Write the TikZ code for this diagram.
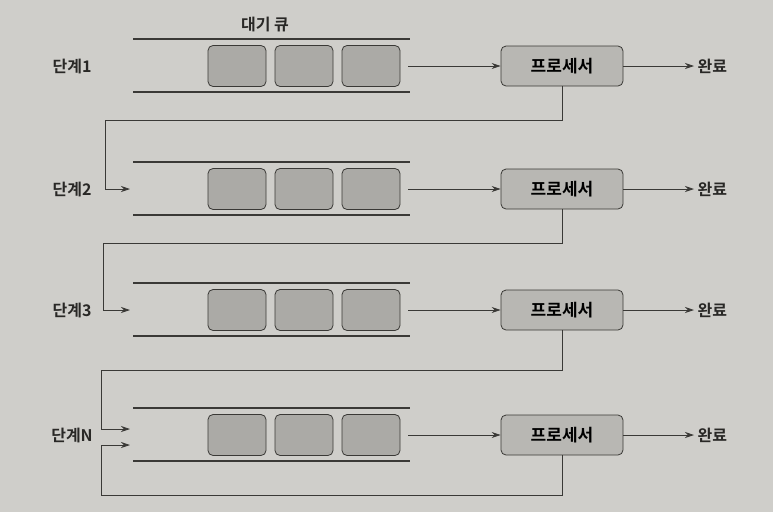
\documentclass[tikz,border=0pt]{standalone}
\usepackage{fontspec}
\setmainfont{Noto Sans CJK KR}[BoldFont={Noto Sans CJK KR Bold}]
\usetikzlibrary{arrows.meta}

\definecolor{paper}{HTML}{CFCECA}
\definecolor{ink}{HTML}{3A3936}
\definecolor{slot}{HTML}{ABAAA6}
\definecolor{procfill}{HTML}{B8B7B3}

\tikzset{
  rail/.style={ink, line width=1.8pt},
  queuebox/.style={draw=ink, fill=slot, thick, rounded corners=5pt,
    minimum width=58pt, minimum height=41pt},
  procbox/.style={draw=ink, fill=procfill, thick, rounded corners=5pt,
    minimum width=122pt, minimum height=40pt, font=\bfseries\fontsize{17}{19}\selectfont},
  stagelabel/.style={font=\bfseries\fontsize{16}{18}\selectfont, text=ink!70!black},
  flow/.style={ink, thick, -{Stealth[length=9pt,width=6pt]}},
  link/.style={ink, thick}
}

\begin{document}
\begin{tikzpicture}[x=1pt, y=-1pt]
  % Page background
  \fill[paper] (0,0) rectangle (773,512);
  \useasboundingbox (0,0) rectangle (773,512);

  \node[stagelabel] (queuetitle) at (265,25) {대기 큐};

  % Stages
  \foreach \i/\y/\lab in {1/66/1, 2/189/2, 3/310/3, 4/435/N} {
    \node[stagelabel] (stage\i) at (72,\y) {단계\lab};
    \draw[rail] (133,\y-27) -- (410,\y-27);
    \draw[rail] (133,\y+26) -- (410,\y+26);
    \node[queuebox] (qa\i) at (237,\y) {};
    \node[queuebox] (qb\i) at (304,\y) {};
    \node[queuebox] (qc\i) at (371,\y) {};
    \coordinate (qout\i) at (408,\y);
    \node[procbox] (proc\i) at (562,\y) {프로세서};
    \node[stagelabel, anchor=west] (done\i) at (694,\y) {완료};
    \draw[flow] (qout\i) -- (proc\i.west);
    \draw[flow] (proc\i.east) -- (done\i.west);
  }

  % Hand-over between stages
  \coordinate (qin2) at (130,189);
  \coordinate (qin3) at (130,310);
  \coordinate (qin4) at (130,429);
  \coordinate (qloop4) at (130,445);
  \coordinate (bend1) at (105,120);
  \coordinate (bend2) at (103,243);
  \coordinate (bend3) at (101,370);
  \coordinate (bend4) at (101,495);

  \draw[flow] (proc1.south) |- (bend1) |- (qin2);
  \draw[flow] (proc2.south) |- (bend2) |- (qin3);
  \draw[flow] (proc3.south) |- (bend3) |- (qin4);

  % Last stage feeds back into itself
  \draw[flow] (proc4.south) |- (bend4) |- (qloop4);
\end{tikzpicture}
\end{document}
